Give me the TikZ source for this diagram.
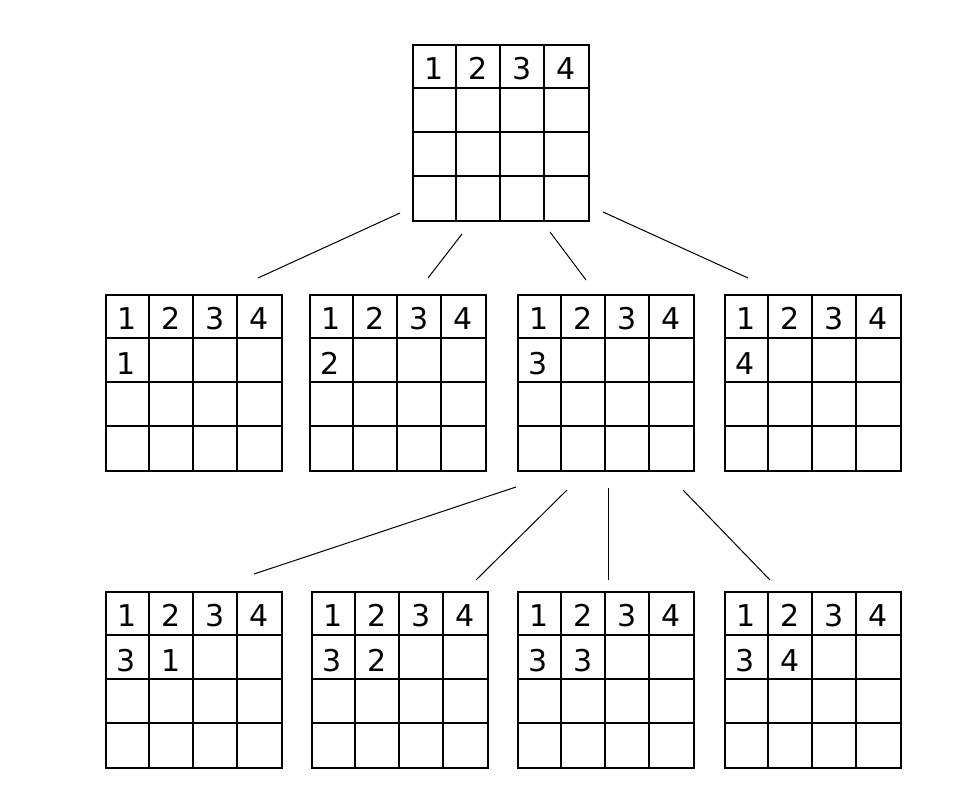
\documentclass[tikz,border=0pt]{standalone}
\usepackage{fontspec}
\setmainfont{DejaVu Sans}
\usetikzlibrary{calc}

\begin{document}
\begin{tikzpicture}[x=1pt,y=-1pt,
	board/.style={draw,line width=1.6pt,minimum size=176pt,inner sep=0pt},
	gridline/.style={line width=1.6pt},
	num/.style={font=\fontsize{30}{30}\selectfont,inner sep=0pt},
	link/.style={line width=1pt}]
	\useasboundingbox (0,0) rectangle (977,799);
	
	%boards
	\foreach \name/\cx/\cy/\a/\b in {top/501/133//, bA/194/383/1/, bB/398/383/2/, bC/606/383/3/, bD/813/383/4/,
		cA/194/680/3/1, cB/400/680/3/2, cC/606/680/3/3, cD/813/680/3/4}
	{
		\node[board] (\name) at (\cx,\cy) {};
		\foreach \k in {1,2,3} {
			\draw[gridline] ($(\name.north west)+(44*\k,0)$) -- ($(\name.south west)+(44*\k,0)$);
			\draw[gridline] ($(\name.north west)+(0,44*\k)$) -- ($(\name.north east)+(0,44*\k)$);
		}
		\foreach \k in {1,2,3,4}
			\node[num] (\name-h\k) at ($(\name.north west)+(44*\k-22,24)$) {\k};
		\node[num] (\name-a) at ($(\name.north west)+(21,69)$) {\a};
		\node[num] (\name-b) at ($(\name.north west)+(66,69)$) {\b};
	}
	
	%link ends
	\coordinate (t1) at (400,213); \coordinate (t1e) at (258,278);
	\coordinate (t2) at (462,234); \coordinate (t2e) at (428,278);
	\coordinate (t3) at (550,232); \coordinate (t3e) at (586,280);
	\coordinate (t4) at (603,212); \coordinate (t4e) at (748,278);
	\coordinate (m1) at (516,487); \coordinate (m1e) at (254,574);
	\coordinate (m2) at (567,490); \coordinate (m2e) at (476,580);
	\coordinate (m3) at (608,488); \coordinate (m3e) at (608,580);
	\coordinate (m4) at (683,490); \coordinate (m4e) at (770,580);
	
	%links
	\foreach \s in {t1,t2,t3,t4,m1,m2,m3,m4}
		\draw[link] (\s) -- (\s e);
\end{tikzpicture}
\end{document}
